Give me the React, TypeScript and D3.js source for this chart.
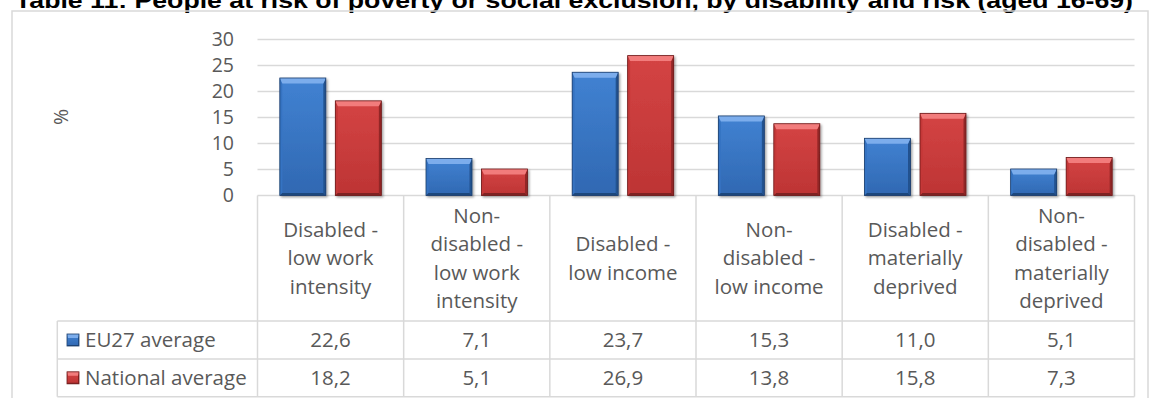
import React from "react";
import * as d3 from "d3";

const title =
  "Table 11: People at risk of poverty or social exclusion, by disability and risk (aged 16-69)";
const categories: string[][] = [
  ["Disabled -", "low work", "intensity"],
  ["Non-", "disabled -", "low work", "intensity"],
  ["Disabled -", "low income"],
  ["Non-", "disabled -", "low income"],
  ["Disabled -", "materially", "deprived"],
  ["Non-", "disabled -", "materially", "deprived"],
];
const seriesNames = ["EU27 average", "National average"];
const eu27 = [22.6, 7.1, 23.7, 15.3, 11.0, 5.1];
const national = [18.2, 5.1, 26.9, 13.8, 15.8, 7.3];
const yTicks = [0, 5, 10, 15, 20, 25, 30];

const W = 1149;
const H = 398;
const plotLeft = 257.5;
const plotRight = 1134.5;
const yTop = 39.5;
const yBase = 195.5;
const row1 = 321;
const row2 = 359;
const row3 = 396.7;
const legendLeft = 57.3;
const FONT = "'Open Sans', sans-serif";
const TEXT = "#595959";
const GRID = "#d9d9d9";
const TABLE_FS = 20.5;

type Palette = {
  faceTop: string;
  faceBottom: string;
  top: string;
  left: string;
  right: string;
  bottom: string;
  outline: string;
};

const palettes: Palette[] = [
  {
    faceTop: "#4182d2",
    faceBottom: "#3068b2",
    top: "#7cadec",
    left: "#3673c2",
    right: "#24528f",
    bottom: "#1f467c",
    outline: "#1b3c6a",
  },
  {
    faceTop: "#d44444",
    faceBottom: "#bd3434",
    top: "#f27c7c",
    left: "#c43838",
    right: "#922626",
    bottom: "#7e2020",
    outline: "#6a1a1a",
  },
];

function BevelBox({
  x,
  y,
  w,
  h,
  p,
  gid,
  tb,
  sb,
}: {
  x: number;
  y: number;
  w: number;
  h: number;
  p: Palette;
  gid: string;
  tb: number;
  sb: number;
}) {
  const t = Math.min(tb, h / 2);
  const s = Math.min(sb, w / 2);
  const b = Math.min(sb, h / 2);
  const pts = (a: number[][]) => a.map((q) => q.join(",")).join(" ");
  return (
    <g>
      <rect x={x} y={y} width={w} height={h} fill={`url(#${gid})`} />
      <polygon
        points={pts([
          [x, y],
          [x + s, y + t],
          [x + s, y + h - b],
          [x, y + h],
        ])}
        fill={p.left}
      />
      <polygon
        points={pts([
          [x + w, y],
          [x + w - s, y + t],
          [x + w - s, y + h - b],
          [x + w, y + h],
        ])}
        fill={p.right}
      />
      <polygon
        points={pts([
          [x, y + h],
          [x + s, y + h - b],
          [x + w - s, y + h - b],
          [x + w, y + h],
        ])}
        fill={p.bottom}
      />
      <polygon
        points={pts([
          [x, y],
          [x + w, y],
          [x + w - s, y + t],
          [x + s, y + t],
        ])}
        fill={p.top}
      />
      <rect
        x={x}
        y={y}
        width={w}
        height={h}
        fill="none"
        stroke={p.outline}
        strokeWidth={0.8}
      />
    </g>
  );
}

export default function App() {
  const values = [eu27, national];
  const x = d3
    .scaleBand<number>()
    .domain(d3.range(categories.length))
    .range([plotLeft, plotRight])
    .paddingInner(0)
    .paddingOuter(0);
  const xs = d3
    .scaleBand<number>()
    .domain([0, 1])
    .range([0, x.bandwidth()])
    .paddingInner(0.171)
    .paddingOuter(0.4025);
  const y = d3.scaleLinear().domain([0, 30]).range([yBase, yTop]);

  const colEdges = d3.range(categories.length + 1).map((i) =>
    i < categories.length ? (x(i) as number) : plotRight
  );
  const lineH = 28.3;
  const headerMid = (yBase + row1) / 2;

  return (
    <svg
      width={W}
      height={H}
      style={{ position: "absolute", left: 0, top: 0, background: "#fff" }}
    >
      <defs>
        {palettes.map((p, i) => (
          <linearGradient key={i} id={`face${i}`} x1="0" y1="0" x2="0" y2="1">
            <stop offset="0" stopColor={p.faceTop} />
            <stop offset="1" stopColor={p.faceBottom} />
          </linearGradient>
        ))}
        <filter id="shadow" x="-20%" y="-20%" width="140%" height="140%">
          <feDropShadow dx="1.5" dy="1.5" stdDeviation="1.2" floodColor="#000" floodOpacity="0.35" />
        </filter>
      </defs>

      {/* title, clipped by the top of the page */}
      <text
        x={15}
        y={8}
        fontFamily="'Liberation Sans', Arial, sans-serif"
        fontWeight="bold"
        fontSize={21.5}
        textLength={1118}
        lengthAdjust="spacingAndGlyphs"
        fill="#000"
      >
        {title}
      </text>

      {/* chart frame */}
      <rect x={12} y={11} width={1136} height={420} fill="none" stroke={GRID} strokeWidth={1.5} />

      {/* gridlines */}
      {yTicks.map((t) => (
        <line
          key={t}
          x1={plotLeft}
          x2={plotRight}
          y1={y(t)}
          y2={y(t)}
          stroke={GRID}
          strokeWidth={1.5}
        />
      ))}

      {/* y tick labels */}
      {yTicks.map((t) => (
        <text
          key={t}
          x={234}
          y={y(t)}
          dy="0.35em"
          textAnchor="end"
          fontFamily={FONT}
          fontSize={19.5}
          fill={TEXT}
        >
          {t}
        </text>
      ))}

      {/* axis title */}
      <text
        transform={`translate(61,117) rotate(-90)`}
        textAnchor="middle"
        dy="0.35em"
        fontFamily={FONT}
        fontSize={19.5}
        fill={TEXT}
      >
        %
      </text>

      {/* bars */}
      <g filter="url(#shadow)">
        {values.map((vals, si) =>
          vals.map((v, ci) => {
            const bx = (x(ci) as number) + (xs(si) as number);
            const by = y(v);
            return (
              <BevelBox
                key={`${si}-${ci}`}
                x={bx}
                y={by}
                w={xs.bandwidth()}
                h={yBase - by}
                p={palettes[si]}
                gid={`face${si}`}
                tb={5.5}
                sb={2.5}
              />
            );
          })
        )}
      </g>

      {/* data table grid */}
      <g stroke={GRID} strokeWidth={1.5}>
        {colEdges.map((cx, i) => (
          <line key={i} x1={cx} x2={cx} y1={yBase} y2={row3} />
        ))}
        <line x1={legendLeft} x2={legendLeft} y1={row1} y2={row3} />
        <line x1={legendLeft} x2={plotRight} y1={row1} y2={row1} />
        <line x1={legendLeft} x2={plotRight} y1={row2} y2={row2} />
        <line x1={legendLeft} x2={plotRight} y1={row3} y2={row3} />
      </g>

      {/* category headers */}
      {categories.map((lines, ci) => {
        const cx = (x(ci) as number) + x.bandwidth() / 2;
        const start = headerMid - ((lines.length - 1) * lineH) / 2;
        return (
          <text
            key={ci}
            textAnchor="middle"
            fontFamily={FONT}
            fontSize={TABLE_FS}
            fill={TEXT}
          >
            {lines.map((l, li) => (
              <tspan key={li} x={cx} y={start + li * lineH} dy="0.35em">
                {l}
              </tspan>
            ))}
          </text>
        );
      })}

      {/* table rows: legend key, series name, values */}
      {values.map((vals, si) => {
        const top = si === 0 ? row1 : row2;
        const bottom = si === 0 ? row2 : row3;
        const cy = (top + bottom) / 2;
        return (
          <g key={si}>
            <BevelBox
              x={67}
              y={cy - 6}
              w={12}
              h={12}
              p={palettes[si]}
              gid={`face${si}`}
              tb={4}
              sb={1}
            />
            <text
              x={85}
              y={cy}
              dy="0.35em"
              fontFamily={FONT}
              fontSize={TABLE_FS}
              fill={TEXT}
            >
              {seriesNames[si]}
            </text>
            {vals.map((v, ci) => (
              <text
                key={ci}
                x={(x(ci) as number) + x.bandwidth() / 2}
                y={cy}
                dy="0.35em"
                textAnchor="middle"
                fontFamily={FONT}
                fontSize={TABLE_FS}
                fill={TEXT}
              >
                {v.toFixed(1).replace(".", ",")}
              </text>
            ))}
          </g>
        );
      })}
    </svg>
  );
}
